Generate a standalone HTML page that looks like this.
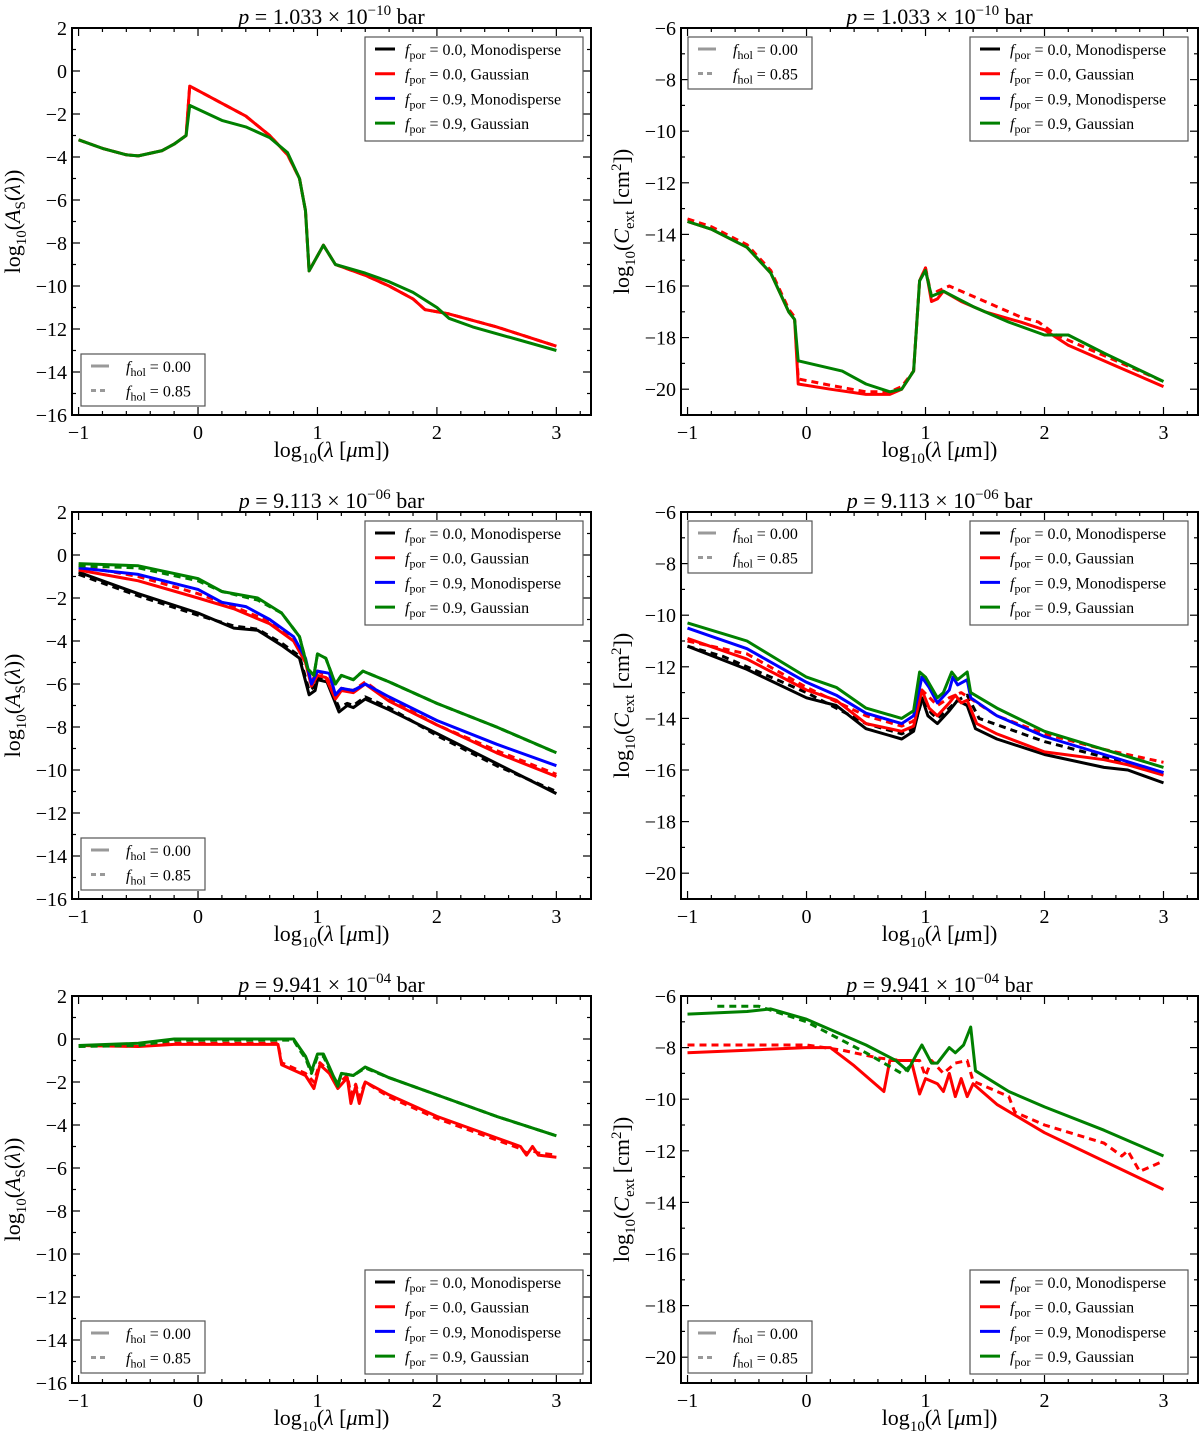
<!DOCTYPE html>
<html><head><meta charset="utf-8"><style>
html,body{margin:0;padding:0;background:#fff}
svg{display:block;font-family:"Liberation Serif",serif}
</style></head><body>
<svg id="fig" width="1200" height="1435" viewBox="0 0 1200 1435" xmlns="http://www.w3.org/2000/svg"></svg>
<script>
// ---- data ----
const xTicks=[-1,0,1,2,3];
const yTicksAs=[2,0,-2,-4,-6,-8,-10,-12,-14,-16];
const yTicksC=[-6,-8,-10,-12,-14,-16,-18,-20];
const titles=["p = 1.033 × 10","p = 9.113 × 10","p = 9.941 × 10"];
const titleExp=["−10","−06","−04"];
// panel 1 As
const a1RedX=[-1.0,-0.8,-0.6,-0.5,-0.3,-0.2,-0.1,-0.07,0.2,0.4,0.6,0.75,0.85,0.9,0.93,1.05,1.15,1.4,1.6,1.8,1.9,2.1,2.5,3.0];
const a1RedY=[-3.2,-3.6,-3.9,-3.95,-3.7,-3.4,-3.0,-0.7,-1.5,-2.1,-3.0,-3.9,-5.0,-6.5,-9.3,-8.1,-9.0,-9.5,-10.0,-10.6,-11.1,-11.3,-11.9,-12.8];
const a1GreenX=[-1.0,-0.8,-0.6,-0.5,-0.3,-0.2,-0.1,-0.07,0.2,0.4,0.6,0.75,0.85,0.9,0.93,1.05,1.15,1.4,1.6,1.8,2.0,2.1,2.3,3.0];
const a1GreenY=[-3.2,-3.6,-3.9,-3.95,-3.7,-3.4,-3.0,-1.6,-2.3,-2.6,-3.1,-3.8,-5.0,-6.5,-9.3,-8.1,-9.0,-9.4,-9.8,-10.3,-11.0,-11.5,-11.9,-13.0];
// panel 1 Cext
const c1RedX=[-1,-0.8,-0.5,-0.3,-0.15,-0.1,-0.07,0.2,0.5,0.7,0.8,0.9,0.95,1.0,1.05,1.1,1.15,1.3,1.5,1.8,2.0,2.2,2.6,3.0];
const c1RedY=[-13.5,-13.8,-14.5,-15.5,-17.0,-17.3,-19.8,-20.0,-20.2,-20.2,-20.0,-19.3,-15.8,-15.3,-16.6,-16.5,-16.2,-16.6,-17.0,-17.4,-17.7,-18.3,-19.1,-19.9];
const c1RedDX=[-1,-0.8,-0.5,-0.3,-0.15,-0.1,-0.07,0.2,0.5,0.7,0.8,0.9,0.95,1.0,1.05,1.1,1.2,1.5,1.8,1.95,2.1,2.6,3.0];
const c1RedDY=[-13.4,-13.7,-14.4,-15.4,-16.9,-17.2,-19.6,-19.85,-20.1,-20.1,-19.9,-19.3,-15.8,-15.3,-16.4,-16.2,-16.0,-16.6,-17.2,-17.4,-17.9,-18.9,-19.7];
const c1GreenX=[-1,-0.8,-0.5,-0.3,-0.15,-0.1,-0.07,0.3,0.5,0.7,0.8,0.9,0.95,1.0,1.05,1.15,1.4,1.7,2.0,2.2,2.5,3.0];
const c1GreenY=[-13.5,-13.8,-14.5,-15.5,-17.0,-17.3,-18.9,-19.3,-19.8,-20.1,-20.0,-19.3,-15.8,-15.4,-16.4,-16.2,-16.8,-17.4,-17.9,-17.9,-18.6,-19.7];
// panel 2 As
const a2GreenX=[-1,-0.5,0,0.2,0.5,0.7,0.85,0.92,0.97,1.0,1.07,1.15,1.2,1.3,1.38,1.6,2.0,2.5,3.0];
const a2GreenY=[-0.4,-0.5,-1.1,-1.7,-2.0,-2.7,-3.8,-5.3,-5.6,-4.6,-4.8,-6.0,-5.6,-5.8,-5.4,-5.9,-6.9,-8.0,-9.2];
const a2BlueX=[-1,-0.5,0,0.2,0.4,0.6,0.8,0.9,0.95,1.0,1.1,1.15,1.2,1.3,1.4,1.6,2.0,2.5,3.0];
const a2BlueY=[-0.6,-0.9,-1.6,-2.2,-2.4,-3.0,-3.8,-4.8,-6.0,-5.4,-5.5,-6.5,-6.2,-6.3,-6.0,-6.6,-7.7,-8.8,-9.8];
const a2RedX=[-1,-0.5,0,0.3,0.6,0.8,0.9,0.95,1.0,1.07,1.15,1.2,1.3,1.4,1.6,2.0,2.5,3.0];
const a2RedY=[-0.7,-1.2,-2.0,-2.5,-3.2,-4.0,-5.0,-6.1,-5.6,-5.7,-6.7,-6.3,-6.4,-6.0,-6.8,-7.9,-9.2,-10.3];
const a2BlackX=[-1,-0.5,0,0.3,0.5,0.7,0.85,0.93,0.98,1.0,1.08,1.18,1.25,1.3,1.4,1.6,2.0,2.5,3.0];
const a2BlackY=[-0.8,-1.8,-2.7,-3.4,-3.5,-4.2,-4.8,-6.5,-6.3,-5.8,-5.9,-7.3,-7.0,-7.1,-6.7,-7.2,-8.3,-9.7,-11.1];
const a2BlackDY=[-0.9,-1.9,-2.8,-3.3,-3.45,-4.1,-4.7,-6.3,-6.1,-5.7,-5.8,-7.1,-6.9,-7.0,-6.6,-7.1,-8.4,-9.8,-11.0];
const a2RedDY=[-0.5,-1.0,-1.8,-2.4,-3.1,-3.9,-4.9,-5.9,-5.4,-5.6,-6.5,-6.2,-6.3,-5.9,-6.7,-7.9,-9.1,-10.2];
const a2GreenDY=[-0.5,-0.6,-1.2,-1.7,-2.1,-2.7,-3.8,-5.3,-5.6,-4.6,-4.8,-6.0,-5.6,-5.8,-5.4,-5.9,-6.9,-8.0,-9.2];
// panel 2 Cext
const c2GreenX=[-1,-0.5,0,0.25,0.5,0.8,0.9,0.95,1.0,1.1,1.15,1.22,1.27,1.35,1.38,1.6,2.0,2.5,3.0];
const c2GreenY=[-10.3,-11.0,-12.4,-12.8,-13.6,-14.0,-13.7,-12.2,-12.4,-13.2,-13.0,-12.2,-12.5,-12.2,-13.0,-13.6,-14.5,-15.2,-15.9];
const c2BlueX=[-1,-0.5,0,0.25,0.5,0.8,0.9,0.97,1.03,1.1,1.2,1.23,1.27,1.35,1.38,1.6,2.0,2.5,3.0];
const c2BlueY=[-10.5,-11.3,-12.6,-13.1,-13.8,-14.2,-13.9,-12.4,-12.8,-13.4,-12.9,-12.4,-12.7,-12.5,-13.2,-13.9,-14.7,-15.4,-16.1];
const c2RedX=[-1,-0.5,0,0.25,0.5,0.8,0.9,0.97,1.03,1.1,1.2,1.25,1.3,1.35,1.43,1.6,2.0,2.5,2.7,3.0];
const c2RedY=[-10.9,-11.7,-12.9,-13.3,-14.2,-14.5,-14.3,-12.9,-13.6,-13.9,-13.4,-13.1,-13.4,-13.3,-14.2,-14.6,-15.3,-15.6,-15.8,-16.2];
const c2BlackX=[-1,-0.5,0,0.25,0.5,0.8,0.9,0.97,1.02,1.1,1.2,1.27,1.35,1.42,1.6,2.0,2.5,2.7,3.0];
const c2BlackY=[-11.2,-12.1,-13.2,-13.5,-14.4,-14.8,-14.5,-13.2,-13.9,-14.2,-13.7,-13.3,-13.5,-14.4,-14.8,-15.4,-15.9,-16.0,-16.5];
const c2BlackDX=[-1,-0.7,0,0.5,0.8,0.9,0.97,1.05,1.1,1.2,1.27,1.35,1.45,2.0,2.5,3.0];
const c2BlackDY=[-11.2,-11.6,-13.0,-14.2,-14.6,-14.4,-13.3,-13.8,-14.0,-13.6,-13.3,-13.1,-14.0,-14.9,-15.5,-16.1];
const c2RedDX=[-1,-0.5,0,0.5,0.8,0.9,0.97,1.1,1.2,1.3,1.4,1.6,2.0,2.5,3.0];
const c2RedDY=[-11.0,-11.5,-12.8,-13.9,-14.3,-14.1,-12.9,-13.5,-13.2,-13.0,-13.3,-13.9,-14.6,-15.2,-15.7];
// panel 3 As
const a3GreenX=[-1,-0.5,-0.2,0.5,0.8,0.85,0.9,0.95,1.0,1.05,1.1,1.17,1.2,1.3,1.4,1.6,2.0,2.5,3.0];
const a3GreenY=[-0.3,-0.2,0.0,0.0,0.0,-0.4,-0.8,-1.5,-0.7,-0.7,-1.3,-2.2,-1.6,-1.7,-1.3,-1.8,-2.6,-3.6,-4.5];
const a3RedX=[-1,-0.5,-0.2,0.3,0.67,0.7,0.9,0.97,1.02,1.1,1.17,1.25,1.28,1.32,1.35,1.4,1.6,2.0,2.5,2.7,2.75,2.8,2.85,3.0];
const a3RedY=[-0.3,-0.35,-0.25,-0.25,-0.25,-1.2,-1.7,-2.3,-1.2,-1.6,-2.3,-1.8,-3.0,-2.2,-3.0,-2.0,-2.6,-3.6,-4.6,-5.0,-5.4,-5.0,-5.4,-5.5];
const a3RedDY=[-0.3,-0.3,-0.2,-0.2,-0.2,-1.1,-1.6,-2.0,-1.1,-1.5,-2.1,-1.7,-2.6,-2.1,-2.7,-2.0,-2.7,-3.7,-4.7,-5.1,-5.3,-5.2,-5.3,-5.4];
const a3GreenDY=[-0.35,-0.3,-0.05,-0.05,-0.05,-0.5,-0.9,-1.6,-0.8,-0.8,-1.4,-2.1,-1.6,-1.7,-1.35,-1.8,-2.6,-3.6,-4.5];
// panel 3 Cext
const c3GreenX=[-1,-0.5,-0.3,0,0.5,0.75,0.85,0.92,0.97,1.05,1.1,1.2,1.25,1.32,1.38,1.42,1.7,2.0,2.5,3.0];
const c3GreenY=[-6.7,-6.6,-6.5,-6.9,-7.9,-8.5,-8.9,-8.3,-7.9,-8.6,-8.6,-8.0,-8.2,-7.9,-7.2,-8.9,-9.7,-10.3,-11.2,-12.2];
const c3GreenDX=[-0.75,-0.4,0,0.5,0.8,0.9];
const c3GreenDY=[-6.4,-6.4,-7.0,-8.2,-9.0,-8.6];
const c3RedX=[-1,-0.5,0,0.2,0.4,0.65,0.7,0.88,0.95,1.0,1.1,1.15,1.2,1.25,1.3,1.35,1.4,1.6,2.0,2.5,3.0];
const c3RedY=[-8.2,-8.1,-8.0,-8.0,-8.7,-9.7,-8.5,-8.5,-9.8,-9.2,-9.4,-9.7,-9.0,-9.9,-9.2,-9.9,-9.4,-10.2,-11.3,-12.4,-13.5];
const c3RedDX=[-1,0,0.3,0.6,0.8,0.95,1.0,1.05,1.15,1.25,1.35,1.4,1.7,1.75,2.0,2.5,2.65,2.7,2.8,3.0];
const c3RedDY=[-7.9,-7.9,-8.1,-8.4,-8.5,-8.5,-9.1,-8.5,-9.0,-8.6,-8.5,-9.3,-9.9,-10.5,-11.0,-11.7,-12.2,-12.0,-12.8,-12.4];

// ---- drawing ----
const NS="http://www.w3.org/2000/svg";
const svg=document.getElementById('fig');
const COL={black:'#000',red:'#ff0000',blue:'#0000ff',green:'#008000'};
function mk(tag,attrs,parent){const e=document.createElementNS(NS,tag);for(const k in attrs)e.setAttribute(k,attrs[k]);(parent||svg).appendChild(e);return e;}

const rowsTop=[28,512,996];
const H=387;
const cols=[{x0:72,x1:591},{x0:681,x1:1198}];
const XMIN=-1.055,XMAX=3.29;

function makePanel(row,col,ylim,yTicks,ylabelKind){
  const top=rowsTop[row],bot=top+H,x0=cols[col].x0,x1=cols[col].x1;
  const g=mk('g',{});
  
  
  const sx=v=>x0+(v-XMIN)/(XMAX-XMIN)*(x1-x0);
  const sy=v=>top+(ylim[1]-v)/(ylim[1]-ylim[0])*H;
  // minor ticks
  for(let v=-1;v<=3.21;v+=0.2){const x=sx(v);const major=Math.abs(v-Math.round(v))<1e-6;const L=major?8:4;
    mk('line',{x1:x,x2:x,y1:bot,y2:bot-L,stroke:'#000','stroke-width':1.2},g);
    mk('line',{x1:x,x2:x,y1:top,y2:top+L,stroke:'#000','stroke-width':1.2},g);}
  for(let v=ylim[0];v<=ylim[1]+1e-6;v+=1){const y=sy(v);const major=yTicks.indexOf(v)>=0;const L=major?8:4;
    mk('line',{x1:x0,x2:x0+L,y1:y,y2:y,stroke:'#000','stroke-width':1.2},g);
    mk('line',{x1:x1,x2:x1-L,y1:y,y2:y,stroke:'#000','stroke-width':1.2},g);}
  // tick labels
  xTicks.forEach(v=>{const t=mk('text',{x:sx(v),y:bot+24,'text-anchor':'middle','font-size':20},g);t.textContent=(v<0?'−':'')+Math.abs(v);
    });
  yTicks.forEach(v=>{const t=mk('text',{x:x0-5,y:sy(v)+7,'text-anchor':'end','font-size':20},g);t.textContent=(v<0?'−':'')+Math.abs(v);
    });
  // x label
  const xl=mk('text',{x:(x0+x1)/2,y:bot+42,'text-anchor':'middle','font-size':22},g);
  
  xl.innerHTML='log<tspan font-size="15" dy="6">10</tspan><tspan dy="-6">(</tspan><tspan font-style="italic">λ</tspan> [<tspan font-style="italic">μ</tspan>m])';
  // y label
  const cy=(top+bot)/2, lx=x0-52;
  const yl=mk('text',{x:lx,y:cy,'text-anchor':'middle','font-size':22,transform:`rotate(-90 ${lx} ${cy})`},g);
  
  if(ylabelKind==='As') yl.innerHTML='log<tspan font-size="15" dy="6">10</tspan><tspan dy="-6">(</tspan><tspan font-style="italic">A</tspan><tspan font-size="15" dy="5">S</tspan><tspan dy="-5">(</tspan><tspan font-style="italic">λ</tspan>))';
  else yl.innerHTML='log<tspan font-size="15" dy="6">10</tspan><tspan dy="-6">(</tspan><tspan font-style="italic">C</tspan><tspan font-size="15" dy="5">ext</tspan><tspan dy="-5"> [cm</tspan><tspan font-size="15" dy="-8">2</tspan><tspan dy="8">])</tspan>';
  // title
  const tt=mk('text',{x:(x0+x1)/2,y:top-4,'text-anchor':'middle','font-size':22},g);
  
  tt.innerHTML='<tspan font-style="italic">p</tspan> = '+titles[row].slice(4)+'<tspan font-size="15" dy="-9">'+titleExp[row]+'</tspan><tspan dy="9"> bar</tspan>';
  // clip
  const cid='clip'+row+col;
  const cp=mk('clipPath',{id:cid},g);mk('rect',{x:x0,y:top,width:x1-x0,height:H},cp);
  const lines=mk('g',{'clip-path':`url(#${cid})`},g);
  return {g,lines,sx,sy,top,bot,x0,x1};
}
function series(P,xs,ys,color,dashed,name){
  const d=xs.map((x,i)=>(i?'L':'M')+P.sx(x).toFixed(1)+','+P.sy(ys[i]).toFixed(1)).join('');
  const p=mk('path',{d,fill:'none',stroke:COL[color],'stroke-width':3,'stroke-linejoin':'round'},P.lines);
  if(dashed)p.setAttribute('stroke-dasharray','7,5');
  
  
}
function frame(P){mk('rect',{x:P.x0,y:P.top,width:P.x1-P.x0,height:H,fill:'none',stroke:'#000','stroke-width':2},P.g);}
function legendPor(P,x,y){
  const g=mk('g',{},P.g);
  mk('rect',{x,y,width:218,height:104,fill:'#fff',stroke:'#555','stroke-width':1.2},g);
  const labs=[['0.0','Monodisperse','black'],['0.0','Gaussian','red'],['0.9','Monodisperse','blue'],['0.9','Gaussian','green']];
  labs.forEach((l,i)=>{const yy=y+12+i*24.7;
    const ln=mk('line',{x1:x+10,x2:x+30,y1:yy,y2:yy,stroke:COL[l[2]],'stroke-width':3},g);
    
    const t=mk('text',{x:x+40,y:yy+6,'font-size':16},g);
    
    t.innerHTML='<tspan font-style="italic">f</tspan><tspan font-size="12" dy="4">por</tspan><tspan dy="-4"> = '+l[0]+', '+l[1]+'</tspan>';});
}
function legendHol(P,x,y){
  const g=mk('g',{},P.g);
  mk('rect',{x,y,width:124,height:52,fill:'#fff',stroke:'#555','stroke-width':1.2},g);
  ['0.00','0.85'].forEach((v,i)=>{const yy=y+12+i*24.5;
    const ln=mk('line',{x1:x+10,x2:x+28,y1:yy,y2:yy,stroke:'#999','stroke-width':3},g);
    if(i)ln.setAttribute('stroke-dasharray','5,4');
    
    const t=mk('text',{x:x+45,y:yy+6,'font-size':16},g);
    
    t.innerHTML='<tspan font-style="italic">f</tspan><tspan font-size="12" dy="4">hol</tspan><tspan dy="-4"> = '+v+'</tspan>';});
}

// Row 1
let P=makePanel(0,0,[-16,2],yTicksAs,'As');
series(P,a1RedX,a1RedY,'red',false,'line-por0-gauss');
series(P,a1RedX,a1RedY,'red',true,'line-por0-gauss-hol');
series(P,a1GreenX,a1GreenY,'green',false,'line-por09-gauss');
frame(P);legendPor(P,365,37);legendHol(P,81,354);
P=makePanel(0,1,[-21,-6],yTicksC,'Cext');
series(P,c1RedX,c1RedY,'red',false,'line-por0-gauss');
series(P,c1RedDX,c1RedDY,'red',true,'line-por0-gauss-hol');
series(P,c1GreenX,c1GreenY,'green',false,'line-por09-gauss');
frame(P);legendPor(P,970,37);legendHol(P,688,37);
// Row 2
P=makePanel(1,0,[-16,2],yTicksAs,'As');
series(P,a2BlackX,a2BlackY,'black',false,'line-por0-mono');
series(P,a2BlackX,a2BlackDY,'black',true,'line-por0-mono-hol');
series(P,a2RedX,a2RedY,'red',false,'line-por0-gauss');
series(P,a2RedX,a2RedDY,'red',true,'line-por0-gauss-hol');
series(P,a2BlueX,a2BlueY,'blue',false,'line-por09-mono');
series(P,a2GreenX,a2GreenDY,'green',true,'line-por09-gauss-hol');
series(P,a2GreenX,a2GreenY,'green',false,'line-por09-gauss');
frame(P);legendPor(P,365,521);legendHol(P,81,838);
P=makePanel(1,1,[-21,-6],yTicksC,'Cext');
series(P,c2BlackX,c2BlackY,'black',false,'line-por0-mono');
series(P,c2BlackDX,c2BlackDY,'black',true,'line-por0-mono-hol');
series(P,c2RedX,c2RedY,'red',false,'line-por0-gauss');
series(P,c2RedDX,c2RedDY,'red',true,'line-por0-gauss-hol');
series(P,c2BlueX,c2BlueY,'blue',false,'line-por09-mono');
series(P,c2GreenX,c2GreenY,'green',false,'line-por09-gauss');
frame(P);legendPor(P,970,521);legendHol(P,688,521);
// Row 3
P=makePanel(2,0,[-16,2],yTicksAs,'As');
series(P,a3RedX,a3RedY,'red',false,'line-por0-gauss');
series(P,a3RedX,a3RedDY,'red',true,'line-por0-gauss-hol');
series(P,a3GreenX,a3GreenDY,'green',true,'line-por09-gauss-hol');
series(P,a3GreenX,a3GreenY,'green',false,'line-por09-gauss');
frame(P);legendPor(P,365,1270);legendHol(P,81,1321);
P=makePanel(2,1,[-21,-6],yTicksC,'Cext');
series(P,c3RedX,c3RedY,'red',false,'line-por0-gauss');
series(P,c3RedDX,c3RedDY,'red',true,'line-por0-gauss-hol');
series(P,c3GreenDX,c3GreenDY,'green',true,'line-por09-gauss-hol');
series(P,c3GreenX,c3GreenY,'green',false,'line-por09-gauss');
frame(P);legendPor(P,970,1270);legendHol(P,688,1321);
</script>
</body></html>
